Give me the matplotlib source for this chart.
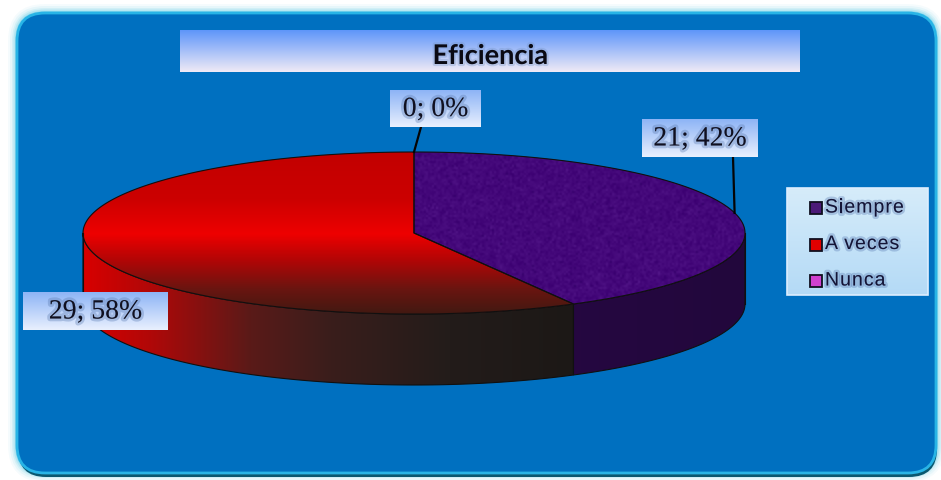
import numpy as np
import matplotlib
matplotlib.use("Agg")
import matplotlib.pyplot as plt
from matplotlib.patches import Polygon, Rectangle, FancyBboxPatch
from matplotlib.font_manager import FontProperties
import matplotlib.patheffects as pe

# Data
title = "Eficiencia"
categories = ["Siempre", "A veces", "Nunca"]
counts = [21, 29, 0]
colors_top = ["#44087A", "#E00000", "#CC33CC"]
legend_colors = ["#4B1A78", "#E00000", "#D040D0"]

W, H = 941, 481
fig = plt.figure(figsize=(W / 100, H / 100), dpi=100)
ax = fig.add_axes([0, 0, 1, 1])
ax.set_xlim(0, W)
ax.set_ylim(H, 0)
ax.axis("off")
fig.patch.set_facecolor("white")

# ---------- panel with glow ----------
for pad, al in [(9, 0.05), (7, 0.08), (5, 0.12), (3.5, 0.18), (2, 0.3)]:
    ax.add_patch(FancyBboxPatch((17 - pad, 14 - pad), 919 + 2 * pad, 460 + 2 * pad,
                                boxstyle="round,pad=0,rounding_size=%f" % (28 + pad),
                                fc="#40C0E0", ec="none", alpha=al, zorder=0))
ax.add_patch(FancyBboxPatch((18, 17), 919, 461, boxstyle="round,pad=0,rounding_size=28",
                            fc="#0A5870", ec="none", zorder=0.5))
ax.add_patch(FancyBboxPatch((17, 14), 919, 460, boxstyle="round,pad=0,rounding_size=28",
                            fc="#0070C0", ec="#28B4E6", lw=2.0, zorder=1))


def grad_fill(patch, xs, cols, vertical, z, extent):
    """Fill a patch with a linear gradient defined by stops along x or y."""
    x0, x1, y0, y1 = extent
    n = 300
    pos = np.linspace(y0, y1, n) if vertical else np.linspace(x0, x1, n)
    cols_rgb = np.array([matplotlib.colors.to_rgb(c) for c in cols])
    arr = np.stack([np.interp(pos, xs, cols_rgb[:, k]) for k in range(3)], axis=1)
    img = arr[:, None, :] if vertical else arr[None, :, :]
    im = ax.imshow(img, extent=(x0, x1, y1, y0), origin="upper",
                   aspect="auto", interpolation="bilinear", zorder=z)
    im.set_clip_path(patch)
    return im


# ---------- 3D pie ----------
cx, cy, ra, rb, depth = 414, 234, 331, 81, 71
total = sum(counts)
fracs = [c / total for c in counts]
starts = np.cumsum([0] + fracs[:-1]) * 360
ends = starts + np.array(fracs) * 360


def pt(tdeg, dy=0.0):
    t = np.radians(tdeg)
    return cx + ra * np.sin(t), cy - rb * np.cos(t) + dy


def arc(t0, t1, dy=0.0, n=200):
    ts = np.linspace(t0, t1, n)
    return np.array([pt(t, dy) for t in ts])


side_cols = {
    0: ([300, 750], ["#2A0948", "#22073C"], False),
    1: ([83, 150, 250, 330, 450, 575],
        ["#D80000", "#B00808", "#5A1A18", "#3A1E1C", "#231C1A", "#1C1816"], False),
}
top_cols = {
    1: ([153, 200, 235, 262, 290, 320],
        ["#C20000", "#CC0000", "#EE0000", "#B00606", "#6A1510", "#3A1A12"], True),
}

# side walls (front half only)
for i in range(len(counts)):
    if fracs[i] == 0:
        continue
    s0, s1 = max(starts[i], 90), min(ends[i], 270)
    if s0 >= s1:
        continue
    top = arc(s0, s1)
    bot = arc(s1, s0, depth)
    poly = Polygon(np.vstack([top, bot]), closed=True, fc="none", ec="none", zorder=2)
    ax.add_patch(poly)
    xs, cs, vert = side_cols[i]
    grad_fill(poly, xs, cs, vert, 2, (83, 746, 150, 400))
    ax.add_patch(Polygon(np.vstack([top, bot]), closed=True, fc="none",
                         ec="#101010", lw=0.8, zorder=3))

# top faces
rng = np.random.default_rng(7)
for i in range(len(counts)):
    if fracs[i] == 0:
        continue
    pts = np.vstack([[cx, cy], arc(starts[i], ends[i])])
    poly = Polygon(pts, closed=True, fc=colors_top[i], ec="none", zorder=4)
    ax.add_patch(poly)
    if i in top_cols:
        xs, cs, vert = top_cols[i]
        grad_fill(poly, xs, cs, vert, 4.1, (80, 750, 150, 320))
    else:
        # fine mottled texture on the purple face
        base = np.array(matplotlib.colors.to_rgb(colors_top[i]))
        noise = rng.normal(0, 0.02, (85, 335, 1))
        tex = np.clip(base[None, None, :] + noise, 0, 1)
        im = ax.imshow(tex, extent=(80, 750, 320, 150), origin="upper",
                       aspect="auto", interpolation="bilinear", zorder=4.1)
        im.set_clip_path(poly)
    ax.add_patch(Polygon(pts, closed=True, fc="none", ec="#101010", lw=0.8, zorder=5))

for t in (90, 270):
    x, y = pt(t)
    ax.plot([x, x], [y, y + depth], color="#101010", lw=0.8, zorder=5)

# ---------- data labels ----------
label_boxes = {
    2: (390, 91, 91, 37),
    0: (642, 120, 116, 38),
    1: (23, 293, 145, 38),
}
leader_anchor = {2: (421, 128), 0: (733, 158)}


def box_grad(x, y, w, h, top_c, bot_c, z):
    r = Rectangle((x, y), w, h, fc="none", ec="none", zorder=z)
    ax.add_patch(r)
    grad_fill(r, [y, y + h], [top_c, bot_c], True, z, (x, x + w, y, y + h))


for i, (x, y, w, h) in label_boxes.items():
    if i in leader_anchor:
        lx, ly = leader_anchor[i]
        tx, ty = pt((starts[i] + ends[i]) / 2)
        ax.plot([lx, tx], [ly, ty], color="#050505", lw=1.6, zorder=6)
    box_grad(x, y, w, h, "#8DB4F6", "#E9F0FE", 7)
    pct = round(fracs[i] * 100)
    ax.text(x + w / 2, y + h / 2 + 1, f"{counts[i]}; {pct}%", ha="center", va="center",
            fontsize=20, family="Liberation Serif", color="#101020", zorder=8,
            path_effects=[pe.withStroke(linewidth=4, foreground="#5A7AB0", alpha=0.35)])

# ---------- title ----------
box_grad(180, 31, 620, 42, "#5E96FA", "#F0EAF6", 7)
ax.text(490, 57, title, ha="center", va="center", fontsize=19.5, fontweight="bold",
        family="Lato", color="#0A0A14", zorder=8,
        path_effects=[pe.withStroke(linewidth=3, foreground="#7090C0", alpha=0.3)])

# ---------- legend ----------
box_grad(787, 189, 141, 107, "#D6ECFA", "#B4DAF6", 7)
ax.add_patch(Rectangle((787, 189), 141, 107, fc="none", ec="#DDEEFF", lw=1.2, zorder=8))

renderer = fig.canvas.get_renderer()
lprop = FontProperties(family="Liberation Sans", size=14)
spacing = 1.0  # extra tracking between letters, px


def tracked_text(x0, y, s):
    for k, ch in enumerate(s):
        if k:
            w, _, _ = renderer.get_text_width_height_descent(s[:k], lprop, ismath=False)
        else:
            w = 0
        ax.text(x0 + w + k * spacing, y, ch, ha="left", va="center", fontproperties=lprop,
                color="#141436", zorder=8,
                path_effects=[pe.withStroke(linewidth=3.5, foreground="#5A7CB4", alpha=0.35)])


for k, (name, col) in enumerate(zip(categories, legend_colors)):
    yy = 209 + k * 36.5
    ax.add_patch(Rectangle((810, yy - 6), 12, 12, fc=col, ec="#101020", lw=1.3, zorder=8))
    tracked_text(825, yy, name)

fig.savefig("out.png", dpi=100, facecolor="white")
